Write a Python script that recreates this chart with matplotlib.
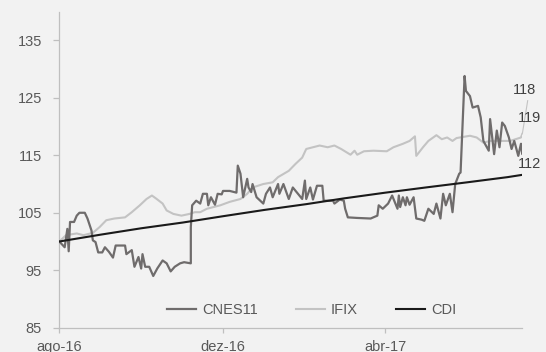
import datetime as dt
import matplotlib
matplotlib.use('Agg')
import matplotlib.pyplot as plt
import matplotlib.dates as mdates
from matplotlib.ticker import FuncFormatter

plt.rcParams['font.family'] = ['Liberation Sans', 'DejaVu Sans']

start = dt.date(2016, 8, 1)

# days after 01-ago-2016
cnes_days = [0, 4.3, 6.3, 7.5, 8.5, 11.7, 13, 15.5, 19.2, 21.7, 24.2, 25.4, 27.9, 29.9,
             32.9, 34.9, 37.9, 40.3, 42.9, 49.1, 50.8, 54.1, 56.5, 59, 61, 62.3, 64,
             67.7, 70.7, 73.9, 77.2, 80.2, 83.4, 86.4, 90.1, 93.8, 98.1, 98.9, 99.6,
             102.6, 105.1, 107.5, 110.1, 111.3, 113.8, 116.3, 118.7, 121.3, 122.5,
             127.5, 132, 133.7, 135, 137.4, 140, 141.9, 143.7, 144.9, 147.4, 152.4,
             154.9, 157.4, 159.8, 163.6, 164.8, 167.3, 171, 174.8, 181, 183.5, 184.8,
             187.2, 189.7, 192.2, 196.4, 197.2, 204.6, 205.9, 209.6, 212.1, 213.4,
             215.8, 222.1, 232, 237, 238.2, 241.9, 245.7, 248.2, 252, 253.2, 254.4,
             256.5, 258.2, 259.9, 261.9, 264.9, 266.9, 270.6, 272.4, 275.6, 279.3,
             281.9, 284.3, 286.8, 288.8, 291.1, 293.8, 295.5, 298, 299.8, 302.2, 303,
             306.7, 308.7, 312.9, 314.7, 316.6, 320.4, 321.6, 324.1, 326.7, 328.6,
             330.4, 332.9, 335.3, 337.1, 339.1, 341.6, 342.8, 344.1, 345.3, 346]
cnes_vals = [100.0, 99.0, 102.2, 98.3, 103.4, 103.4, 104.5, 105.0, 105.0, 104.0, 101.9,
             100.2, 99.9, 98.1, 98.1, 99.0, 98.2, 97.2, 99.3, 99.3, 97.8, 98.5, 95.6,
             97.3, 95.3, 97.8, 95.6, 95.6, 94.0, 95.3, 96.7, 96.2, 94.8, 95.6, 96.2,
             96.4, 96.2, 102.5, 106.3, 107.1, 106.6, 108.3, 108.3, 106.3, 107.7, 106.4,
             108.3, 108.2, 108.8, 108.8, 108.5, 113.2, 111.8, 107.7, 110.9, 109.4,
             108.6, 110.0, 107.7, 106.6, 108.3, 109.4, 107.7, 110.0, 108.3, 110.0,
             107.4, 109.4, 107.4, 110.6, 107.4, 109.4, 107.3, 109.7, 109.7, 107.1,
             107.1, 106.6, 107.3, 107.1, 105.7, 104.2, 104.1, 104.0, 104.5, 106.3,
             105.7, 106.6, 108.0, 105.7, 108.0, 106.0, 107.7, 106.3, 107.7, 106.4,
             107.7, 104.0, 103.8, 103.6, 105.7, 104.8, 106.6, 104.0, 108.3, 106.3,
             108.3, 105.1, 110.0, 111.8, 112.0, 128.8, 126.2, 125.3, 123.3, 123.6,
             121.6, 117.5, 115.8, 121.3, 115.2, 119.3, 116.4, 120.7, 120.1, 118.1,
             116.1, 117.5, 115.8, 114.9, 117.0, 115.2, 118.7]

ifix_days = [0, 5, 13, 18, 25.4, 30.4, 35.4, 41.6, 49.1, 54.1, 60.3, 65.3, 69, 72.7,
             77.7, 80.2, 85.2, 91.4, 97.6, 101.4, 105.1, 110.1, 120, 127.5, 135, 140,
             144.9, 152.4, 159.8, 163.6, 171, 176, 181, 184.8, 189.7, 194.7, 200.9,
             205.9, 210.9, 217.1, 220.9, 222.6, 227.1, 234.6, 244.5, 249.5, 256.9,
             261.9, 265.7, 266.9, 268.2, 271.9, 275.6, 281.9, 285.6, 289.3, 293.1,
             296.8, 301.7, 306.7, 311.7, 316.6, 321.6, 329.1, 336.6, 344.1, 345.8]
ifix_vals = [100.0, 101.1, 101.4, 101.1, 101.5, 102.5, 103.7, 104.0, 104.2, 105.1,
             106.3, 107.4, 108.0, 107.5, 106.6, 105.4, 104.8, 104.5, 104.8, 105.1,
             105.1, 105.7, 106.3, 106.9, 107.4, 108.3, 109.4, 110.0, 110.3, 111.2,
             112.3, 113.5, 114.6, 116.1, 116.4, 116.7, 116.4, 116.7, 116.1, 115.1,
             115.8, 115.1, 115.7, 115.8, 115.7, 116.4, 117.0, 117.5, 118.3, 114.9,
             115.5, 116.4, 117.5, 118.5, 117.8, 118.1, 117.5, 118.0, 118.2, 118.4,
             118.1, 117.2, 117.5, 117.5, 117.5, 118.1, 118.7]

cdi_dates = ['2016-08-01', '2016-09-01', '2016-10-01', '2016-11-01', '2016-12-01',
             '2017-01-01', '2017-02-01', '2017-03-01', '2017-04-01', '2017-05-01',
             '2017-06-01', '2017-07-01', '2017-07-12']
cdi_vals = [100.0, 101.2, 102.3, 103.3, 104.4, 105.5, 106.5, 107.5, 108.5, 109.4,
            110.3, 111.2, 111.6]

end_labels = ['118', '119', '112']
meses = ['jan', 'fev', 'mar', 'abr', 'mai', 'jun', 'jul', 'ago', 'set', 'out', 'nov', 'dez']

bg = '#f2f2f2'
axis_gray = '#bfbfbf'
text_gray = '#595959'
fs = 10.5


def toDates(days):
    return [start + dt.timedelta(days=d) for d in days]


cnes_x = toDates(cnes_days)
ifix_x = toDates(ifix_days)
cdi_x = [dt.date.fromisoformat(d) for d in cdi_dates]

fig = plt.figure(figsize=(5.46, 3.52), dpi=100, facecolor=bg)
ax = fig.add_axes([0.1086, 0.069, 0.848, 0.898], facecolor=bg)

ax.plot(cnes_x, cnes_vals, color='#6f6c6c', lw=1.6, label='CNES11', zorder=3)
ax.plot(ifix_x, ifix_vals, color='#c3c3c3', lw=1.5, label='IFIX', zorder=2)
ax.plot(cdi_x, cdi_vals, color='#1a1a1a', lw=1.5, label='CDI', zorder=4)

# leader line from the IFIX end to its label
ax.plot([ifix_x[-1], start + dt.timedelta(days=349.5)], [ifix_vals[-1], 124.5],
        color='#c3c3c3', lw=0.8, clip_on=False)

label_pos = [(338.3, 126.3), (342.8, 121.5), (342.8, 113.4)]
for txt, (d, v) in zip(end_labels, label_pos):
    ax.text(start + dt.timedelta(days=d), v, txt, fontsize=fs, color='#404040',
            ha='left', va='center', clip_on=False)

ax.set_xlim(start, start + dt.timedelta(days=345.8))
ax.set_ylim(85, 140)
ax.set_yticks([85, 95, 105, 115, 125, 135])

ax.xaxis.set_major_locator(mdates.MonthLocator(bymonth=[4, 8, 12]))
ax.xaxis.set_major_formatter(FuncFormatter(
    lambda x, pos: '%s-%s' % (meses[mdates.num2date(x).month - 1],
                              mdates.num2date(x).strftime('%y'))))

for s in ['top', 'right']:
    ax.spines[s].set_visible(False)
for s in ['left', 'bottom']:
    ax.spines[s].set_color(axis_gray)
    ax.spines[s].set_linewidth(0.9)

ax.tick_params(axis='y', length=4.3, width=0.9, color=axis_gray, pad=8.2,
               labelsize=fs, labelcolor=text_gray)
ax.tick_params(axis='x', length=3.6, width=0.9, color=axis_gray, pad=5,
               labelsize=fs, labelcolor=text_gray)

ax.legend(loc='center', bbox_to_anchor=(0.545, 0.056), ncol=3, frameon=False,
          fontsize=fs, handlelength=2.0, handletextpad=0.4, columnspacing=2.6,
          labelcolor=text_gray)

fig.savefig('out.png', dpi=100, facecolor=bg)
